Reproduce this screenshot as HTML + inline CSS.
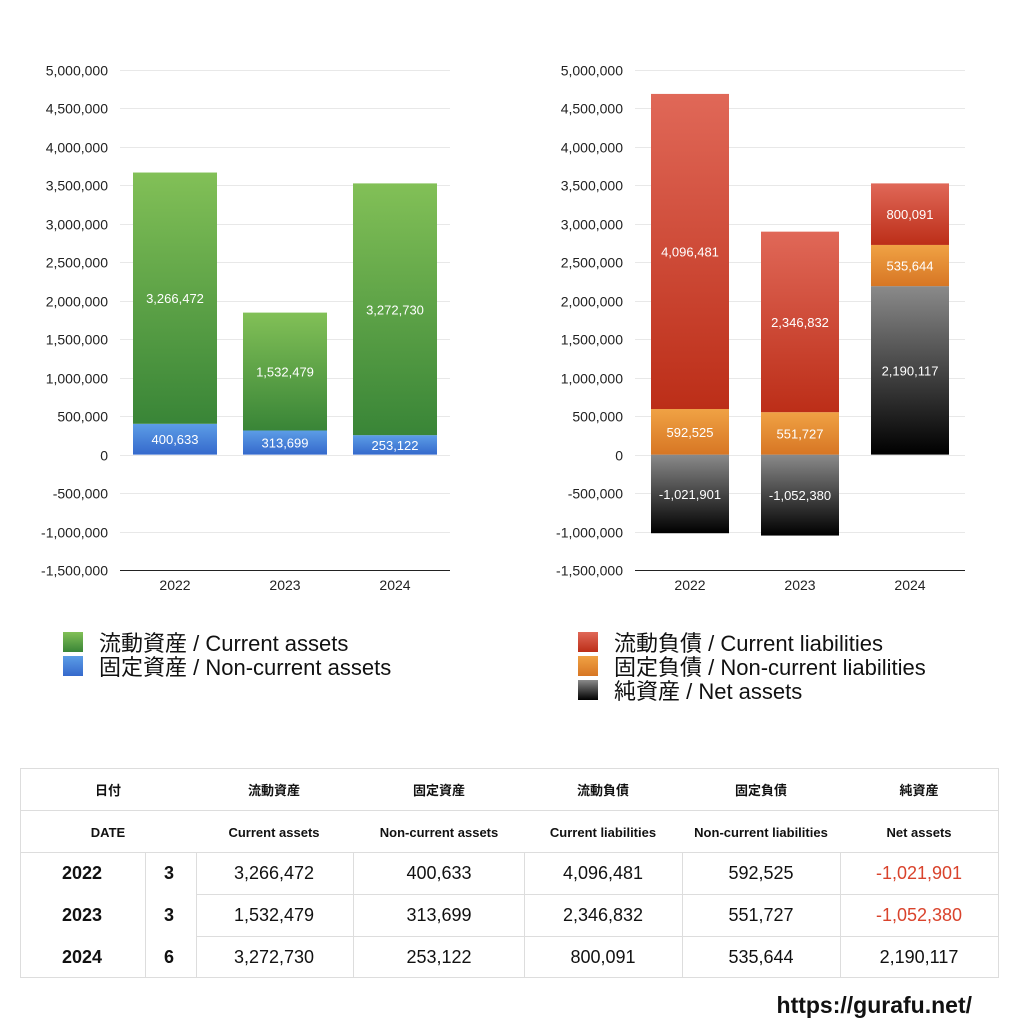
<!DOCTYPE html>
<html><head><meta charset="utf-8">
<style>
html,body{margin:0;padding:0;background:#fff;}
body{width:1024px;height:1024px;overflow:hidden;font-family:"Liberation Sans","Noto Sans CJK JP",sans-serif;}
svg text{font-family:"Liberation Sans","Noto Sans CJK JP",sans-serif;}
</style></head>
<body>
<svg id="root" width="1024" height="1024" viewBox="0 0 1024 1024" xmlns="http://www.w3.org/2000/svg">
<defs>
<linearGradient id="gGreen" x1="0" y1="0" x2="0" y2="1"><stop offset="0" stop-color="#82c057"/><stop offset="1" stop-color="#398537"/></linearGradient>
<linearGradient id="gBlue" x1="0" y1="0" x2="0" y2="1"><stop offset="0" stop-color="#5c9de6"/><stop offset="1" stop-color="#3569cc"/></linearGradient>
<linearGradient id="gRed" x1="0" y1="0" x2="0" y2="1"><stop offset="0" stop-color="#e06858"/><stop offset="1" stop-color="#bc2e18"/></linearGradient>
<linearGradient id="gOrange" x1="0" y1="0" x2="0" y2="1"><stop offset="0" stop-color="#f0a244"/><stop offset="1" stop-color="#d77624"/></linearGradient>
<linearGradient id="gBlack" x1="0" y1="0" x2="0" y2="1"><stop offset="0" stop-color="#8a8a8a"/><stop offset="1" stop-color="#000"/></linearGradient>
</defs>
<g id="leftChart"></g>
<g id="rightChart"></g>

<g>
<rect x="63" y="632" width="20" height="20" fill="url(#gGreen)"/>
<text x="99" y="651" font-size="22" fill="#111">流動資産 / Current assets</text>
<rect x="63" y="656" width="20" height="20" fill="url(#gBlue)"/>
<text x="99" y="675" font-size="22" fill="#111">固定資産 / Non-current assets</text>
</g>
<g>
<rect x="578" y="632" width="20" height="20" fill="url(#gRed)"/>
<text x="614" y="651" font-size="22" fill="#111">流動負債 / Current liabilities</text>
<rect x="578" y="656" width="20" height="20" fill="url(#gOrange)"/>
<text x="614" y="675" font-size="22" fill="#111">固定負債 / Non-current liabilities</text>
<rect x="578" y="680" width="20" height="20" fill="url(#gBlack)"/>
<text x="614" y="699" font-size="22" fill="#111">純資産 / Net assets</text>
</g>

<g font-size="15" fill="#111">
<rect x="20.5" y="768.5" width="978" height="209" fill="none" stroke="#ddd"/>
<g stroke="#ddd">
<line x1="20" y1="810.5" x2="999" y2="810.5"/>
<line x1="20" y1="852.5" x2="999" y2="852.5"/>
<line x1="196" y1="894.5" x2="999" y2="894.5"/>
<line x1="196" y1="936.5" x2="999" y2="936.5"/>
<line x1="145.5" y1="852" x2="145.5" y2="978"/>
<line x1="196.5" y1="852" x2="196.5" y2="978"/>
<line x1="353.5" y1="852" x2="353.5" y2="978"/>
<line x1="524.5" y1="852" x2="524.5" y2="978"/>
<line x1="682.5" y1="852" x2="682.5" y2="978"/>
<line x1="840.5" y1="852" x2="840.5" y2="978"/>
</g>
<g font-weight="bold" font-size="13" text-anchor="middle">
<text x="108" y="795">日付</text>
<text x="274" y="795">流動資産</text>
<text x="439" y="795">固定資産</text>
<text x="603" y="795">流動負債</text>
<text x="761" y="795">固定負債</text>
<text x="919" y="795">純資産</text>
<text x="108" y="837">DATE</text>
<text x="274" y="837">Current assets</text>
<text x="439" y="837">Non-current assets</text>
<text x="603" y="837">Current liabilities</text>
<text x="761" y="837">Non-current liabilities</text>
<text x="919" y="837">Net assets</text>
</g>
<g id="tableBody" font-size="18" text-anchor="middle"></g>
</g>
<text x="972" y="1013" font-size="23" font-weight="bold" text-anchor="end" fill="#111">https://gurafu.net/</text>
</svg>
<script>
const years = ["2022","2023","2024"];
const months = ["3","3","6"];
const currentAssets = [3266472, 1532479, 3272730];
const nonCurrentAssets = [400633, 313699, 253122];
const currentLiabilities = [4096481, 2346832, 800091];
const nonCurrentLiabilities = [592525, 551727, 535644];
const netAssets = [-1021901, -1052380, 2190117];
const yTicks = [5000000,4500000,4000000,3500000,3000000,2500000,2000000,1500000,1000000,500000,0,-500000,-1000000,-1500000];

const NS = "http://www.w3.org/2000/svg";
const yMax = 5000000, yMin = -1500000, yTop = 70, yBot = 570;
function yScale(v){ return yTop + (yMax - v) / (yMax - yMin) * (yBot - yTop); }
function fmt(v){ return v.toLocaleString("en-US"); }
function mk(tag, attrs, parent){ const e = document.createElementNS(NS, tag); for (const k in attrs) e.setAttribute(k, attrs[k]); parent.appendChild(e); return e; }

function drawChart(g, x0, x1, barW, stacks){
  const step = (x1 - x0) / years.length;
  yTicks.forEach(t => {
    const y = Math.round(yScale(t)) + 0.5;
    const ln = mk("line", {x1:x0, x2:x1, y1:y, y2:y, stroke:"#e8e8e8"}, g);
    
    
    const tx = mk("text", {x:x0-12, y:y+5, "font-size":14, "text-anchor":"end", fill:"#222"}, g);
    
    
    tx.textContent = fmt(t);
  });
  years.forEach((yr, i) => {
    const cx = x0 + step * (i + 0.5);
    let pos = 0, neg = 0;
    stacks.forEach(s => {
      const v = s.values[i];
      let a, b;
      if (v >= 0) { a = pos; b = pos + v; pos = b; } else { a = neg; b = neg + v; neg = b; }
      const yA = yScale(Math.max(a, b)), yB = yScale(Math.min(a, b));
      const r = mk("rect", {x:cx-barW/2, y:yA, width:barW, height:yB-yA, fill:s.fill}, g);
      
      
      const t = mk("text", {x:cx, y:(yA+yB)/2+5, "font-size":13, "text-anchor":"middle", fill:"#fff"}, g);
      
      
      t.textContent = fmt(v);
    });
    const xl = mk("text", {x:cx, y:590, "font-size":14, "text-anchor":"middle", fill:"#222"}, g);
    
    
    xl.textContent = yr;
  });
  const ax = mk("line", {x1:x0, x2:x1, y1:570.5, y2:570.5, stroke:"#222"}, g);
  
  
}

drawChart(document.getElementById("leftChart"), 120, 450, 84, [
  {name:"noncurrent-assets", values:nonCurrentAssets, fill:"url(#gBlue)"},
  {name:"current-assets", values:currentAssets, fill:"url(#gGreen)"}
]);
drawChart(document.getElementById("rightChart"), 635, 965, 78, [
  {name:"net-assets", values:netAssets, fill:"url(#gBlack)"},
  {name:"noncurrent-liabilities", values:nonCurrentLiabilities, fill:"url(#gOrange)"},
  {name:"current-liabilities", values:currentLiabilities, fill:"url(#gRed)"}
]);

const tb = document.getElementById("tableBody");
years.forEach((yr, i) => {
  const y = 879 + i * 42;
  const cells = [
    [82, yr, true, "year"], [169, months[i], true, "month"],
    [274, fmt(currentAssets[i]), false, "current-assets"],
    [439, fmt(nonCurrentAssets[i]), false, "noncurrent-assets"],
    [603, fmt(currentLiabilities[i]), false, "current-liabilities"],
    [761, fmt(nonCurrentLiabilities[i]), false, "noncurrent-liabilities"],
    [919, fmt(netAssets[i]), false, "net-assets"]
  ];
  cells.forEach(c => {
    const t = mk("text", {x:c[0], y:y, fill: (c[3]==="net-assets" && netAssets[i] < 0) ? "#d9432c" : "#111"}, tb);
    if (c[2]) t.setAttribute("font-weight", "bold");
    
    
    t.textContent = c[1];
  });
});
</script>
</body></html>
